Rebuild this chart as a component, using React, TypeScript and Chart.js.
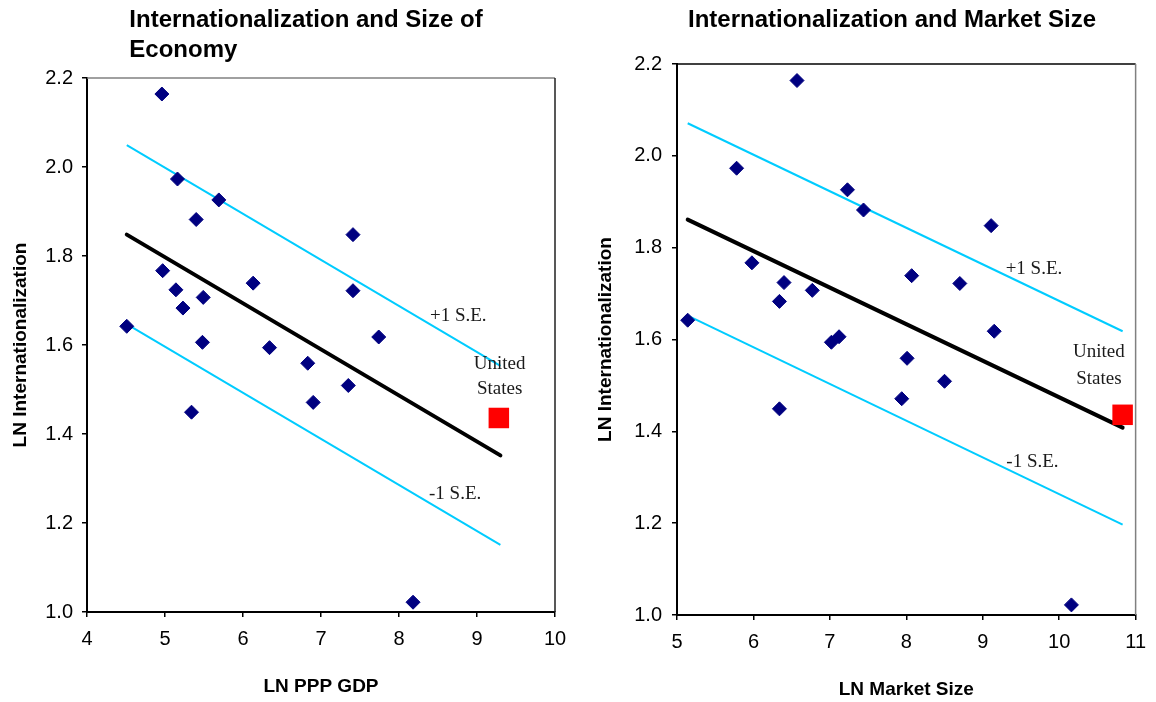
import React, { useEffect, useRef } from 'react';
import { Chart, registerables } from 'chart.js';

Chart.register(...registerables);

// ---------- DATA ----------
// LN Internationalization (same countries in both panels)
const internationalization = [2.164, 1.973, 1.926, 1.882, 1.848, 1.767, 1.739, 1.724, 1.722, 1.707, 1.683, 1.642, 1.618, 1.606, 1.594, 1.559, 1.509, 1.471, 1.449, 1.022];
// LN PPP GDP for each country (left panel)
const lnPppGdp = [4.96, 5.16, 5.69, 5.40, 7.41, 4.97, 6.13, 5.14, 7.41, 5.49, 5.23, 4.51, 7.74, 5.48, 6.34, 6.83, 7.35, 6.90, 5.34, 8.18];
// LN Market Size for each country (right panel)
const lnMarketSize = [6.57, 5.78, 7.23, 7.44, 9.11, 5.98, 8.07, 6.40, 8.70, 6.77, 6.34, 5.14, 9.15, 7.12, 7.02, 8.01, 8.50, 7.94, 6.34, 10.16];

// United States
const usInternationalization = 1.436;
const usLnPppGdp = 9.28;
const usLnMarketSize = 10.83;

// Regression line and +/-1 S.E. lines (endpoints)
const gdpLineX = [4.51, 9.30];
const gdpFitY = [1.848, 1.352];
const gdpUpperY = [2.049, 1.553];
const gdpLowerY = [1.647, 1.151];

const mktLineX = [5.14, 10.83];
const mktFitY = [1.861, 1.408];
const mktUpperY = [2.071, 1.618];
const mktLowerY = [1.652, 1.197];

// Text annotations
const gdpNoteText = ['+1 S.E.', 'United', 'States', '-1 S.E.'];
const gdpNoteX = [8.76, 9.29, 9.29, 8.72];
const gdpNoteY = [1.666, 1.557, 1.500, 1.265];

const mktNoteText = ['+1 S.E.', 'United', 'States', '-1 S.E.'];
const mktNoteX = [9.67, 10.52, 10.52, 9.65];
const mktNoteY = [1.753, 1.572, 1.514, 1.333];

// Ticks
const yTickValues = [1.0, 1.2, 1.4, 1.6, 1.8, 2.0, 2.2];
const gdpXTicks = [4, 5, 6, 7, 8, 9, 10];
const mktXTicks = [5, 6, 7, 8, 9, 10, 11];

// Titles
const gdpTitle = ['Internationalization and Size of', 'Economy'];
const mktTitle = ['Internationalization and Market Size'];
const yAxisTitle = 'LN Internationalization';
const gdpXAxisTitle = 'LN PPP GDP';
const mktXAxisTitle = 'LN Market Size';

// ---------- STYLE ----------
const NAVY = '#000080';
const CYAN = '#00CCFF';
const SANS = '"Liberation Sans", Arial, Helvetica, sans-serif';
const SERIF = '"Liberation Serif", "Times New Roman", serif';

interface PanelSpec {
  xs: number[];
  usX: number;
  lineX: number[];
  fitY: number[];
  upperY: number[];
  lowerY: number[];
  noteText: string[];
  noteX: number[];
  noteY: number[];
  xTicks: number[];
  title: string[];
  xTitle: string;
  // layout
  padTop: number;
  padRight: number;
  yAxisWidth: number;
  xAxisHeight: number;
  yTitlePad: number;
  xTitlePad: number;
  yTickPad: number;
  titleCenter: number;
  topBorder: string;
  rightBorder: string;
}

const titlePlugin = {
  id: 'panelTitle',
  afterDraw(chart: any) {
    const spec: PanelSpec = chart.options.plugins.panelTitle.spec;
    const ctx = chart.ctx;
    ctx.save();
    ctx.font = `bold 24px ${SANS}`;
    ctx.fillStyle = '#000';
    ctx.textAlign = 'left';
    ctx.textBaseline = 'alphabetic';
    const w = ctx.measureText(spec.title[0]).width;
    const startX = spec.titleCenter - w / 2;
    spec.title.forEach((line, i) => {
      ctx.fillText(line, startX, 27 + i * 30);
    });
    ctx.restore();
  },
};

const framePlugin = {
  id: 'panelFrame',
  beforeDatasetsDraw(chart: any) {
    const spec: PanelSpec = chart.options.plugins.panelFrame.spec;
    const { left, right, top, bottom } = chart.chartArea;
    const ctx = chart.ctx;
    ctx.save();
    ctx.lineWidth = 1.5;
    ctx.strokeStyle = spec.topBorder;
    ctx.beginPath();
    ctx.moveTo(left, top);
    ctx.lineTo(right, top);
    ctx.stroke();
    ctx.strokeStyle = spec.rightBorder;
    ctx.beginPath();
    ctx.moveTo(right, top);
    ctx.lineTo(right, bottom);
    ctx.stroke();
    ctx.restore();
  },
};

const notesPlugin = {
  id: 'panelNotes',
  afterDatasetsDraw(chart: any) {
    const spec: PanelSpec = chart.options.plugins.panelNotes.spec;
    const ctx = chart.ctx;
    const xs = chart.scales.x;
    const ys = chart.scales.y;
    ctx.save();
    ctx.font = `19px ${SERIF}`;
    ctx.fillStyle = '#1a1a1a';
    ctx.textAlign = 'center';
    ctx.textBaseline = 'middle';
    spec.noteText.forEach((t, i) => {
      ctx.fillText(t, xs.getPixelForValue(spec.noteX[i]), ys.getPixelForValue(spec.noteY[i]));
    });
    ctx.restore();
  },
};

function buildConfig(spec: PanelSpec): any {
  const line = (ys: number[]) => spec.lineX.map((x, i) => ({ x, y: ys[i] }));
  return {
    type: 'scatter',
    data: {
      datasets: [
        {
          label: 'Countries',
          data: spec.xs.map((x, i) => ({ x, y: internationalization[i] })),
          pointStyle: 'rectRot',
          pointRadius: 7,
          backgroundColor: NAVY,
          borderColor: NAVY,
          borderWidth: 1,
          showLine: false,
          clip: false,
        },
        {
          label: 'United States',
          data: [{ x: spec.usX, y: usInternationalization }],
          pointStyle: 'rect',
          pointRadius: 14.5,
          backgroundColor: '#FF0000',
          borderColor: '#FF0000',
          borderWidth: 0,
          showLine: false,
          clip: false,
        },
        {
          label: 'Fit',
          data: line(spec.fitY),
          showLine: true,
          borderColor: '#000000',
          borderWidth: 4,
          pointRadius: 0,
          borderCapStyle: 'round',
        },
        {
          label: '+1 S.E.',
          data: line(spec.upperY),
          showLine: true,
          borderColor: CYAN,
          borderWidth: 2,
          pointRadius: 0,
        },
        {
          label: '-1 S.E.',
          data: line(spec.lowerY),
          showLine: true,
          borderColor: CYAN,
          borderWidth: 2,
          pointRadius: 0,
        },
      ],
    },
    options: {
      animation: false,
      responsive: false,
      maintainAspectRatio: false,
      devicePixelRatio: 1,
      events: [],
      layout: { padding: { left: 0, right: spec.padRight, top: spec.padTop, bottom: 0 } },
      plugins: {
        legend: { display: false },
        tooltip: { enabled: false },
        title: { display: false },
        panelTitle: { spec },
        panelFrame: { spec },
        panelNotes: { spec },
      },
      scales: {
        x: {
          type: 'linear',
          position: 'bottom',
          min: spec.xTicks[0],
          max: spec.xTicks[spec.xTicks.length - 1],
          afterBuildTicks: (s: any) => {
            s.ticks = spec.xTicks.map((v) => ({ value: v }));
          },
          afterFit: (s: any) => {
            s.height = spec.xAxisHeight;
          },
          ticks: {
            color: '#000',
            font: { family: SANS, size: 20 },
            padding: 10,
            maxRotation: 0,
            autoSkip: false,
            callback: (v: any) => String(v),
          },
          grid: {
            display: true,
            drawOnChartArea: false,
            drawTicks: true,
            tickLength: 5,
            color: '#000',
            lineWidth: 1.5,
          },
          border: { display: true, color: '#000', width: 2 },
          title: {
            display: true,
            text: spec.xTitle,
            color: '#000',
            font: { family: SANS, size: 19, weight: 'bold' },
            padding: { top: 0, bottom: spec.xTitlePad },
          },
        },
        y: {
          type: 'linear',
          position: 'left',
          min: yTickValues[0],
          max: yTickValues[yTickValues.length - 1],
          afterBuildTicks: (s: any) => {
            s.ticks = yTickValues.map((v) => ({ value: v }));
          },
          afterFit: (s: any) => {
            s.width = spec.yAxisWidth;
          },
          ticks: {
            color: '#000',
            font: { family: SANS, size: 20 },
            padding: spec.yTickPad,
            autoSkip: false,
            callback: (v: any) => Number(v).toFixed(1),
          },
          grid: {
            display: true,
            drawOnChartArea: false,
            drawTicks: true,
            tickLength: 5,
            color: '#000',
            lineWidth: 1.5,
          },
          border: { display: true, color: '#000', width: 2 },
          title: {
            display: true,
            text: yAxisTitle,
            color: '#000',
            font: { family: SANS, size: 19, weight: 'bold' },
            padding: { top: spec.yTitlePad, bottom: 0 },
          },
        },
      },
    },
    plugins: [framePlugin, notesPlugin, titlePlugin],
  };
}

const gdpSpec: PanelSpec = {
  xs: lnPppGdp,
  usX: usLnPppGdp,
  lineX: gdpLineX,
  fitY: gdpFitY,
  upperY: gdpUpperY,
  lowerY: gdpLowerY,
  noteText: gdpNoteText,
  noteX: gdpNoteX,
  noteY: gdpNoteY,
  xTicks: gdpXTicks,
  title: gdpTitle,
  xTitle: gdpXAxisTitle,
  padTop: 78,
  padRight: 23,
  yAxisWidth: 87,
  xAxisHeight: 90,
  yTitlePad: 9,
  xTitlePad: 4,
  yTickPad: 9,
  titleCenter: 306,
  topBorder: '#808080',
  rightBorder: '#202020',
};

const mktSpec: PanelSpec = {
  xs: lnMarketSize,
  usX: usLnMarketSize,
  lineX: mktLineX,
  fitY: mktFitY,
  upperY: mktUpperY,
  lowerY: mktLowerY,
  noteText: mktNoteText,
  noteX: mktNoteX,
  noteY: mktNoteY,
  xTicks: mktXTicks,
  title: mktTitle,
  xTitle: mktXAxisTitle,
  padTop: 64,
  padRight: 12,
  yAxisWidth: 99,
  xAxisHeight: 87,
  yTitlePad: 16,
  xTitlePad: 1,
  yTickPad: 10,
  titleCenter: 314,
  topBorder: '#000000',
  rightBorder: '#808080',
};

function Panel({ spec, left }: { spec: PanelSpec; left: number }) {
  const ref = useRef<HTMLCanvasElement | null>(null);
  useEffect(() => {
    if (!ref.current) return;
    const chart = new Chart(ref.current, buildConfig(spec));
    return () => chart.destroy();
  }, [spec]);
  return (
    <div style={{ position: 'absolute', left, top: 0, width: 578, height: 702 }}>
      <canvas ref={ref} width={578} height={702} style={{ display: 'block', width: 578, height: 702 }} />
    </div>
  );
}

export default function App() {
  return (
    <div style={{ position: 'absolute', left: 0, top: 0, width: 1156, height: 702, background: '#fff', overflow: 'hidden' }}>
      <Panel spec={gdpSpec} left={0} />
      <Panel spec={mktSpec} left={578} />
    </div>
  );
}
